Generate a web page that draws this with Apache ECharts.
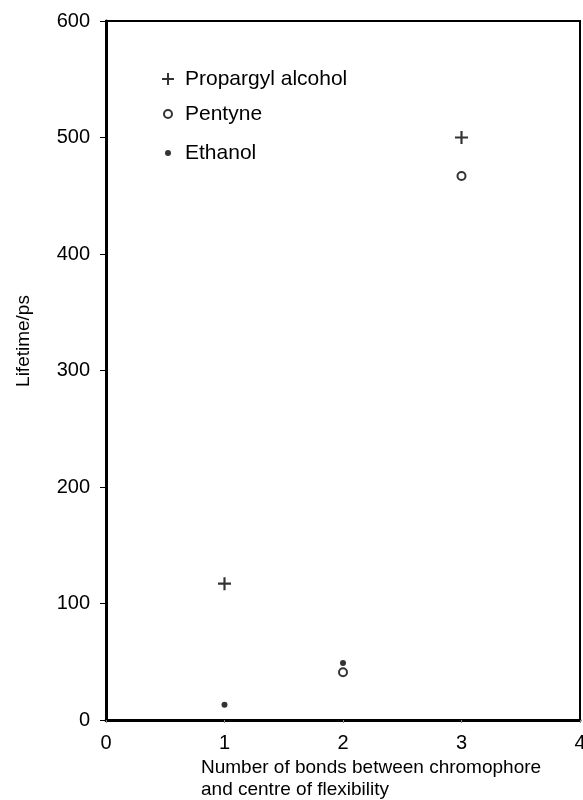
<!DOCTYPE html>
<html>
<head>
<meta charset="utf-8">
<script src="https://cdn.jsdelivr.net/npm/echarts@6/dist/echarts.min.js"></script>
<style>
  html, body { margin: 0; padding: 0; background: #fff; }
  #charts { width: 583px; height: 800px; }
</style>
</head>
<body>
<div id="charts"></div>
<script>
// data
const seriesNames = ['Propargyl alcohol', 'Pentyne', 'Ethanol'];
const propargyl = [[1, 117], [3, 500]];
const pentyne = [[2, 41], [3, 467]];
const ethanol = [[1, 13], [2, 49]];
const xTicks = [0, 1, 2, 3, 4];
const yTicks = [0, 100, 200, 300, 400, 500, 600];

const plusPath = 'path://M5,0 L7,0 L7,5 L12,5 L12,7 L7,7 L7,12 L5,12 L5,7 L0,7 L0,5 L5,5 Z';
const font = 'Liberation Sans, Arial, sans-serif';

var myChart = echarts.init(document.getElementById('charts'));

// one legend box per item, so each icon keeps its own size
function legendItem(name, icon, itemStyle, h, left, centerY) {
	return {
		orient: 'vertical',
		left: left,
		top: centerY - 12,
		padding: 0,
		itemWidth: 24,
		itemHeight: h,
		symbolKeepAspect: true,
		textStyle: { fontSize: 21, color: '#000', fontFamily: font, lineHeight: 24 },
		data: [{ name: name, icon: icon, itemStyle: itemStyle }]
	};
}

let option = {
	animation: false,
	textStyle: { fontFamily: font, color: '#000' },
	grid: {
		left: 106,
		right: 3,
		top: 21,
		bottom: 80,
		outerBoundsMode: 'none',
		containLabel: false,
		show: true,
		borderColor: '#000',
		borderWidth: 2
	},
	legend: [
		legendItem(seriesNames[0], plusPath, { color: '#000' }, 12, 162, 79),
		legendItem(seriesNames[1], 'circle', { color: '#fff', borderColor: '#000', borderWidth: 2 }, 8, 163, 114),
		legendItem(seriesNames[2], 'circle', { color: '#000' }, 6, 165, 153)
	],
	xAxis: {
		type: 'value',
		min: xTicks[0],
		max: xTicks[xTicks.length - 1],
		interval: 1,
		splitLine: { show: false },
		axisLine: { lineStyle: { color: '#000', width: 3 } },
		axisTick: { show: true, length: 3, lineStyle: { color: '#888', width: 1 } },
		axisLabel: { color: '#000', fontSize: 20, margin: 13, fontFamily: font }
	},
	yAxis: {
		type: 'value',
		min: yTicks[0],
		max: yTicks[yTicks.length - 1],
		interval: 100,
		splitLine: { show: false },
		axisLine: { show: true, lineStyle: { color: '#000', width: 3 } },
		axisTick: { show: true, length: 6, lineStyle: { color: '#000', width: 1 } },
		axisLabel: { color: '#000', fontSize: 20, margin: 16, fontFamily: font }
	},
	graphic: [
		{
			type: 'text',
			x: 24,
			y: 341,
			rotation: Math.PI / 2,
			style: {
				text: 'Lifetime/ps',
				fill: '#000',
				font: '19px ' + font,
				align: 'center',
				verticalAlign: 'middle'
			}
		},
		{
			type: 'text',
			x: 201,
			y: 757,
			style: {
				text: 'Number of bonds between chromophore\nand centre of flexibility',
				fill: '#000',
				font: '19px ' + font,
				lineHeight: 22,
				align: 'left',
				verticalAlign: 'top'
			}
		}
	],
	series: [
		{
			name: seriesNames[0],
			type: 'scatter',
			symbol: plusPath,
			symbolSize: 13,
			itemStyle: { color: '#000' },
			data: propargyl
		},
		{
			name: seriesNames[1],
			type: 'scatter',
			symbol: 'circle',
			symbolSize: 8,
			itemStyle: { color: '#fff', borderColor: '#000', borderWidth: 2 },
			data: pentyne
		},
		{
			name: seriesNames[2],
			type: 'scatter',
			symbol: 'circle',
			symbolSize: 6,
			itemStyle: { color: '#000' },
			data: ethanol
		}
	]
};

myChart.setOption(option);
</script>
</body>
</html>
